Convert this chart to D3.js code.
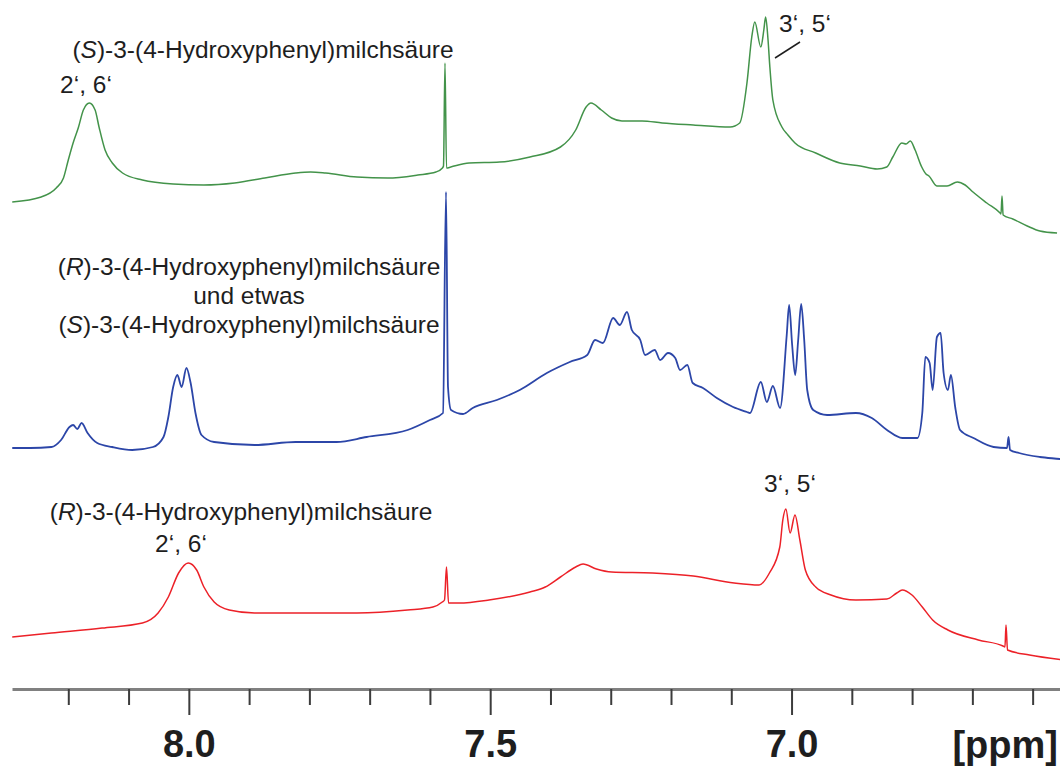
<!DOCTYPE html>
<html>
<head>
<meta charset="utf-8">
<script src="https://cdn.jsdelivr.net/npm/d3@7"></script>
<style>
  body { margin: 0; background: #fff; }
  text { font-family: "Liberation Sans", Arial, sans-serif; fill: #1e1e1e; }
  .trace { fill: none; stroke-linejoin: round; }
</style>
</head>
<body>
<svg id="svg1" width="1060" height="767"></svg>
<script>
// [ppm, intensity]
const greenS = [
  [8.293, 38], [8.245, 43], [8.220, 52], [8.208, 62], [8.200, 80], [8.192, 97], [8.183, 113],
  [8.175, 130], [8.165, 137], [8.1555, 130], [8.149, 113], [8.139, 90], [8.127, 77], [8.110, 67],
  [8.077, 60], [8.026, 56], [7.975, 55], [7.924, 57], [7.874, 62], [7.823, 67], [7.798, 68],
  [7.773, 67], [7.721, 63], [7.670, 62], [7.620, 65], [7.590, 68], [7.5792, 72], [7.5775, 74],
  [7.5750, 177], [7.5725, 72], [7.5654, 73], [7.535, 77], [7.4845, 78], [7.434, 83], [7.3834, 93],
  [7.3581, 110], [7.3409, 133], [7.3328, 137], [7.3156, 130], [7.2985, 122], [7.2813, 119],
  [7.248, 119], [7.2146, 117], [7.163, 115], [7.102, 113], [7.086, 117], [7.074, 157], [7.066, 203],
  [7.061, 218], [7.051, 193], [7.046, 210], [7.043, 223], [7.039, 200], [7.036, 173], [7.031, 140],
  [7.016, 113], [7.006, 105], [6.9943, 97], [6.9599, 87], [6.920, 77], [6.886, 74], [6.858, 71],
  [6.842, 73], [6.832, 83], [6.817, 97], [6.810, 96], [6.803, 99], [6.795, 90], [6.784, 73],
  [6.777, 66], [6.772, 64], [6.759, 54], [6.742, 54], [6.725, 58], [6.712, 55], [6.699, 48],
  [6.676, 37], [6.654, 27], [6.6525, 26], [6.6508, 44], [6.649, 25], [6.633, 21], [6.609, 14],
  [6.588, 9], [6.5595, 7]
];
const blueMix = [
  [8.293, 22], [8.263, 22], [8.228, 23], [8.212, 30], [8.198, 43], [8.192, 45], [8.185, 41],
  [8.178, 47], [8.168, 37], [8.152, 27], [8.127, 23], [8.094, 20], [8.0595, 23], [8.042, 33],
  [8.034, 53], [8.026, 83], [8.019, 95], [8.012, 83], [8.004, 102], [7.997, 87], [7.989, 57],
  [7.979, 35], [7.958, 28], [7.891, 25], [7.823, 28], [7.755, 28], [7.705, 33], [7.637, 40],
  [7.600, 50], [7.5783, 57], [7.5733, 278], [7.570, 83], [7.565, 60], [7.545, 56], [7.529, 62],
  [7.489, 70], [7.451, 80], [7.406, 97], [7.368, 108], [7.339, 115], [7.326, 130], [7.313, 127],
  [7.296, 152], [7.285, 145], [7.273, 158], [7.265, 140], [7.251, 130], [7.243, 115], [7.227, 120],
  [7.218, 110], [7.205, 117], [7.193, 112], [7.185, 100], [7.173, 105], [7.164, 87], [7.147, 82],
  [7.124, 72], [7.097, 63], [7.074, 58], [7.069, 57], [7.051, 88], [7.041, 68], [7.031, 84],
  [7.019, 62], [7.008, 135], [7.004, 165], [6.999, 125], [6.994, 95], [6.989, 130], [6.984, 166],
  [6.979, 130], [6.974, 80], [6.964, 60], [6.941, 55], [6.8932, 57], [6.8669, 52], [6.8417, 40],
  [6.8164, 32], [6.7911, 32], [6.7831, 57], [6.778, 113], [6.7709, 107], [6.7659, 80], [6.7588, 133],
  [6.7527, 137], [6.7477, 97], [6.7406, 80], [6.7356, 95], [6.7285, 63], [6.7204, 40], [6.6982, 32],
  [6.6648, 23], [6.6425, 22], [6.6400, 33], [6.6375, 20], [6.6225, 17], [6.588, 13], [6.5548, 11],
  [6.5405, 10]
];
const redR = [
  [8.293, 33], [8.228, 37], [8.144, 42], [8.077, 47], [8.051, 57], [8.034, 73], [8.017, 97],
  [8.001, 107], [7.987, 100], [7.975, 83], [7.958, 68], [7.933, 60], [7.891, 57], [7.806, 57],
  [7.721, 57], [7.637, 60], [7.595, 63], [7.5795, 68], [7.5758, 70], [7.5725, 103], [7.5691, 67],
  [7.552, 67], [7.502, 70], [7.434, 78], [7.4086, 83], [7.3834, 93], [7.3581, 103], [7.346, 106],
  [7.3237, 101], [7.2985, 98], [7.2308, 97], [7.163, 94], [7.0953, 87], [7.0539, 85], [7.0367, 97],
  [7.0195, 123], [7.0145, 150], [7.0094, 161], [7.0024, 137], [6.9943, 155], [6.9862, 130],
  [6.9771, 100], [6.9599, 83], [6.9346, 75], [6.8932, 70], [6.8417, 71], [6.8255, 77], [6.8164, 80],
  [6.8002, 75], [6.7831, 63], [6.7659, 50], [6.7406, 40], [6.6901, 30], [6.6492, 24], [6.6459, 23],
  [6.6442, 45], [6.6417, 20], [6.6052, 15], [6.5457, 10]
];

const majorTicks = [8.0, 7.5, 7.0];
const minorTicks = [8.2, 8.1, 7.9, 7.8, 7.7, 7.6, 7.4, 7.3, 7.2, 7.1, 6.9, 6.8, 6.7, 6.6];
const unitLabel = "[ppm]";
const nameS = ["(", "S", ")-3-(4-Hydroxyphenyl)milchsäure"];
const nameR = ["(", "R", ")-3-(4-Hydroxyphenyl)milchsäure"];
const mixWord = "und etwas";
const peakA = "2‘, 6‘";
const peakB = "3‘, 5‘";

var svg = d3.select("#svg1");
var x = d3.scaleLinear().domain([8.2934, 6.5546]).range([12, 1060]);
var y = d3.scaleLinear().domain([0, 300]).range([0, -300]);
var line = d3.line()
  .curve(d3.curveMonotoneX)
  .x(d => x(d[0]))
  .y(d => y(d[1]));

var traces = [
  { data: greenS, base: 240, color: "#43934a", w: 1.5 },
  { data: blueMix, base: 470, color: "#2c46a8", w: 1.8 },
  { data: redR, base: 670, color: "#ec2128", w: 1.5 }
];
traces.forEach(function(t) {
  svg.append("path")
    .attr("class", "trace")
    .attr("transform", "translate(0," + t.base + ")")
    .attr("stroke", t.color)
    .attr("stroke-width", t.w)
    .attr("d", line(t.data));
});

// axis
var minorAxis = svg.append("g")
  .attr("transform", "translate(0,689)")
  .call(d3.axisBottom(x).tickValues(minorTicks).tickSize(16).tickSizeOuter(0).tickFormat(""));
minorAxis.select(".domain").attr("stroke", "#808080").attr("stroke-width", 3);
minorAxis.selectAll(".tick line").attr("stroke", "#3c3c3c").attr("stroke-width", 2);

var majorAxis = svg.append("g")
  .attr("transform", "translate(0,689)")
  .call(d3.axisBottom(x).tickValues(majorTicks).tickSize(26).tickSizeOuter(0).tickPadding(15)
    .tickFormat(d3.format(".1f")));
majorAxis.select(".domain").remove();
majorAxis.selectAll(".tick line").attr("stroke", "#3c3c3c").attr("stroke-width", 2);
majorAxis.selectAll(".tick text")
  .attr("font-size", 38).attr("font-weight", "bold")
  .attr("font-family", "'Liberation Sans', Arial, sans-serif")
  .attr("fill", "#111");

svg.append("text")
  .attr("x", 1058).attr("y", 758)
  .attr("text-anchor", "end")
  .attr("font-size", 38).attr("font-weight", "bold")
  .attr("fill", "#111")
  .text(unitLabel);

function nameText(cx, cy, parts) {
  var t = svg.append("text")
    .attr("x", cx).attr("y", cy)
    .attr("text-anchor", "middle")
    .attr("font-size", 24.5);
  parts.forEach(function(p, i) {
    t.append("tspan").attr("font-style", i == 1 ? "italic" : "normal").text(p);
  });
}
function plainText(cx, cy, s) {
  svg.append("text")
    .attr("x", cx).attr("y", cy)
    .attr("text-anchor", "middle")
    .attr("font-size", 24.5)
    .text(s);
}

// green
nameText(263, 58, nameS);
plainText(86, 93, peakA);
plainText(805, 32, peakB);
svg.append("line")
  .attr("x1", 775).attr("y1", 58).attr("x2", 800).attr("y2", 42)
  .attr("stroke", "#1e1e1e").attr("stroke-width", 1.5);

// blue
nameText(249, 275, nameR);
plainText(249, 304, mixWord);
nameText(249, 333, nameS);

// red
nameText(241, 520, nameR);
plainText(181, 552, peakA);
plainText(790, 492, peakB);
</script>
</body>
</html>
